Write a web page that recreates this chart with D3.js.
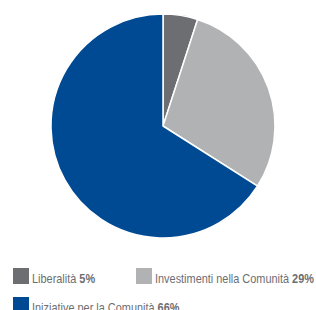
<!DOCTYPE html>
<html>
<head>
<meta charset="utf-8">
<script src="https://cdn.jsdelivr.net/npm/d3@7"></script>
<style>
  body { margin: 0; background: #fff; }
  svg text { font-family: "Liberation Sans Narrow", "Arial Narrow", "Liberation Sans", sans-serif; }
</style>
</head>
<body>
<div id="chart"></div>
<script>
// chart data
let labels = ["Liberalità", "Investimenti nella Comunità", "Iniziative per la Comunità"];
let values = [5, 29, 66];
let colors = ["#6d6e71", "#b1b2b4", "#004a93"];

let width = 316, height = 310;

let svg = d3.select("#chart")
  .append("svg")
  .attr("width", width)
  .attr("height", height);

let data = labels.map(function(l, i) { return {label: l, value: values[i], color: colors[i]}; });

// pie, clockwise from 12 o'clock
let pie = d3.pie()
  .sort(null)
  .value(function(d) { return d.value; });

let arc = d3.arc()
  .innerRadius(0)
  .outerRadius(112);

let g = svg.append("g")
  .attr("transform", "translate(163,126)");

g.selectAll("path")
  .data(pie(data))
  .enter()
  .append("path")
  .attr("d", arc)
  .attr("fill", function(d) { return d.data.color; })
  .attr("stroke", "#fff")
  .attr("stroke-width", 1.5)
  .attr("stroke-linejoin", "round");

// legend
let legendPos = [[13, 268], [136, 268], [13, 297]];

let legend = svg.selectAll("g.legend")
  .data(data)
  .enter()
  .append("g")
  .attr("class", "legend")
  .attr("transform", function(d, i) { return "translate(" + legendPos[i][0] + "," + legendPos[i][1] + ")"; });

legend.append("rect")
  .attr("width", 16)
  .attr("height", 16)
  .attr("fill", function(d) { return d.color; });

// condensed look: squeeze the text horizontally
let txt = legend.append("text")
  .attr("transform", "translate(19,15) scale(0.84,1)")
  .attr("font-size", "13px")
  .attr("fill", "#6d6e71");

txt.append("tspan").text(function(d) { return d.label + " "; });
txt.append("tspan")
  .attr("font-weight", "bold")
  .text(function(d) { return d.value + "%"; });
</script>
</body>
</html>
